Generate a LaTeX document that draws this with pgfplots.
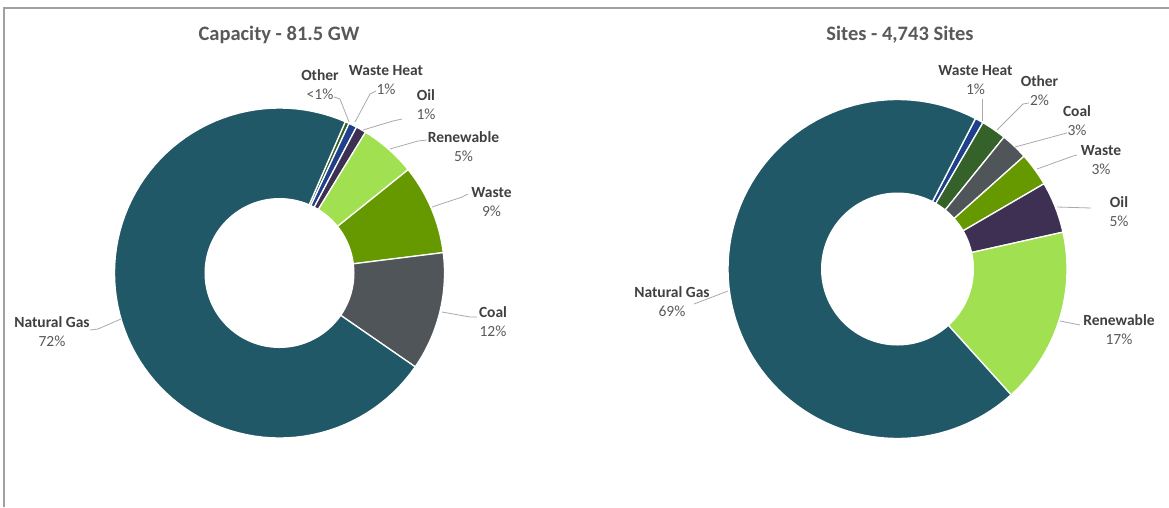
\documentclass[border=0pt]{standalone}
\usepackage{pgfplots}
\usepackage{pgfplotstable}
\pgfplotsset{compat=1.18}
\usepackage{fontspec}
\setmainfont{Carlito}

% slice colours
\definecolor{cGas}{RGB}{33,88,104}
\definecolor{cCoal}{RGB}{80,85,90}
\definecolor{cWaste}{RGB}{102,153,0}
\definecolor{cRenew}{RGB}{161,224,80}
\definecolor{cOil}{RGB}{62,48,82}
\definecolor{cHeat}{RGB}{31,64,140}
\definecolor{cOther}{RGB}{52,98,40}
% text and lines
\definecolor{titlegray}{RGB}{89,89,89}
\definecolor{namegray}{RGB}{64,64,64}
\definecolor{pctgray}{RGB}{89,89,89}
\definecolor{leadgray}{RGB}{170,170,170}
\definecolor{framegray}{RGB}{160,160,160}

% shares in percent, listed clockwise
\pgfplotstableread{
name       value color
Other      0.4   cOther
WasteHeat  0.8   cHeat
Oil        1.0   cOil
Renewable  5.5   cRenew
Waste      8.8   cWaste
Coal      11.6   cCoal
NaturalGas 71.9  cGas
}\capacity

\pgfplotstableread{
name       value color
WasteHeat  0.8   cHeat
Other      2.4   cOther
Coal       2.6   cCoal
Waste      3.2   cWaste
Oil        4.9   cOil
Renewable 16.8   cRenew
NaturalGas 69.3  cGas
}\sites

% #1 table, #2 cx, #3 cy, #4 outer radius, #5 inner radius,
% #6 angle of the first slice, clockwise from 12 o'clock
\newcommand\drawdonut[6]{%
  \pgfplotstablegetrowsof{#1}%
  \pgfmathtruncatemacro\nrows{\pgfplotsretval-1}%
  \pgfmathsetmacro\cum{#6}%
  \pgfplotsforeachungrouped \i in {0,...,\nrows}{%
    \pgfplotstablegetelem{\i}{value}\of#1\let\val\pgfplotsretval
    \pgfplotstablegetelem{\i}{color}\of#1\let\col\pgfplotsretval
    \pgfmathsetmacro\tA{\cum-90}%
    \pgfmathsetmacro\tB{\cum+3.6*\val-90}%
    \pgfmathsetmacro\cum{\cum+3.6*\val}%
    \edef\doslice{\noexpand\addplot[fill=\col, draw=white, line width=1.3pt,
      line join=round, domain=\tA:\tB, samples=90]
      ({#2+#4*cos(x)},{#3+#4*sin(x)}) -- (axis cs:#2,#3) -- cycle;}%
    \doslice
  }%
  \edef\dohole{\noexpand\fill[white] (axis cs:#2,#3) circle[radius=#5];}%
  \dohole
}

\newcommand\lblfont{\fontsize{15.5}{19}\selectfont}
% #1 x, #2 baseline of the name, #3 name, #4 share
\newcommand\slabel[4]{%
  \node[anchor=base, font=\lblfont\bfseries, text=namegray, inner sep=0pt]
    at (axis cs:#1,#2) {#3};
  \node[anchor=base, font=\lblfont, text=pctgray, inner sep=0pt, yshift=-19.5pt]
    at (axis cs:#1,#2) {#4};
}

\begin{document}
\begin{tikzpicture}
\useasboundingbox (0,0) rectangle (1169pt,507pt);
\begin{axis}[
  at={(0,0)}, anchor=south west,
  width=1169pt, height=507pt, scale only axis,
  xmin=0, xmax=1169, ymin=0, ymax=507, y dir=reverse,
  hide axis, clip=false,
]
% frame
\addplot[framegray, line width=2pt, mark=none] coordinates {(4,507) (4,7.5) (1169,7.5)};

% titles
\node[anchor=base, font=\fontsize{20.5}{24}\selectfont\bfseries, text=titlegray]
  at (axis cs:279,40) {Capacity - 81.5 GW};
\node[anchor=base, font=\fontsize{20.5}{24}\selectfont\bfseries, text=titlegray]
  at (axis cs:900,40) {Sites - 4,743 Sites};

% donuts
\drawdonut{\capacity}{279.5}{273}{165}{75}{23.5}
\drawdonut{\sites}{897.5}{269}{169.5}{76.5}{27.4}

% leader lines, capacity
\addplot[leadgray, line width=0.8pt, mark=none] coordinates {(334,97) (340,99) (349,122)};
\addplot[leadgray, line width=0.8pt, mark=none] coordinates {(376,91) (370,94) (355,122)};
\addplot[leadgray, line width=0.8pt, mark=none] coordinates {(402,119) (393,121) (363,130)};
\addplot[leadgray, line width=0.8pt, mark=none] coordinates {(427,140) (418,141) (390,149)};
\addplot[leadgray, line width=0.8pt, mark=none] coordinates {(468,194) (462,197) (432,207)};
\addplot[leadgray, line width=0.8pt, mark=none] coordinates {(477,317) (470,317) (442,312)};
\addplot[leadgray, line width=0.8pt, mark=none] coordinates {(90,330) (98,329) (121,319)};
% leader lines, sites
\addplot[leadgray, line width=0.8pt, mark=none] coordinates {(982,99) (982,121)};
\addplot[leadgray, line width=0.8pt, mark=none] coordinates {(1029,103) (1023,104) (997,130)};
\addplot[leadgray, line width=0.8pt, mark=none] coordinates {(1067,133) (1063,134) (1015,147)};
\addplot[leadgray, line width=0.8pt, mark=none] coordinates {(1077,155) (1073,156) (1037,169)};
\addplot[leadgray, line width=0.8pt, mark=none] coordinates {(1091,208) (1057,207)};
\addplot[leadgray, line width=0.8pt, mark=none] coordinates {(1080,325) (1060,321)};
\addplot[leadgray, line width=0.8pt, mark=none] coordinates {(694,304) (728,291)};

% labels, capacity
\slabel{320}{80}{Other}{<1\%}
\slabel{386}{75}{Waste Heat}{1\%}
\slabel{426}{100}{Oil}{1\%}
\slabel{463.5}{142}{Renewable}{5\%}
\slabel{491.5}{197}{Waste}{9\%}
\slabel{493}{317}{Coal}{12\%}
\slabel{52}{327}{Natural Gas}{72\%}
% labels, sites
\slabel{975.5}{75}{Waste Heat}{1\%}
\slabel{1039.5}{86}{Other}{2\%}
\slabel{1077}{116}{Coal}{3\%}
\slabel{1101}{155}{Waste}{3\%}
\slabel{1119}{207}{Oil}{5\%}
\slabel{1119}{325}{Renewable}{17\%}
\slabel{672}{297}{Natural Gas}{69\%}
\end{axis}
\end{tikzpicture}
\end{document}
